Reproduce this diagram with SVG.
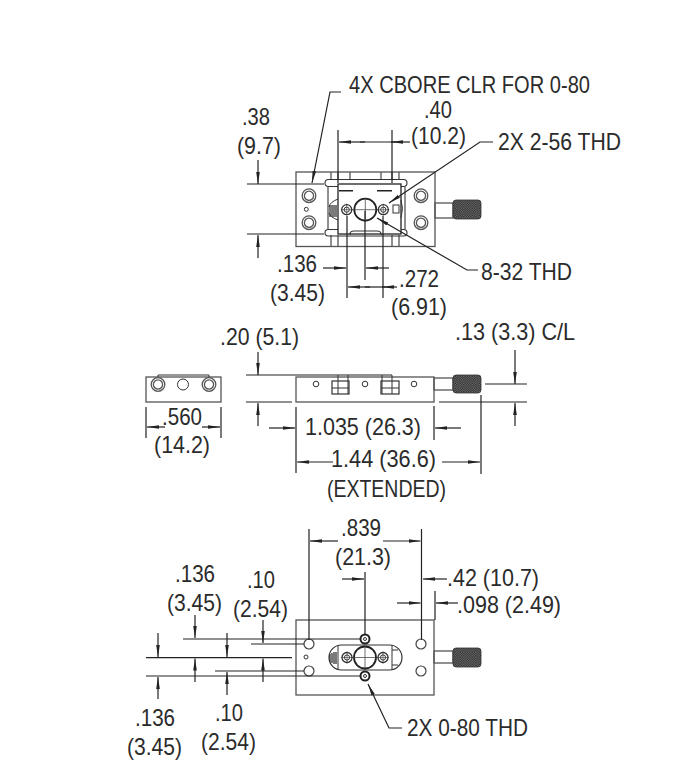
<svg xmlns="http://www.w3.org/2000/svg" width="693" height="769" viewBox="0 0 693 769">
<style>
text{font-family:"Liberation Sans",Arial,sans-serif;font-size:24px;fill:#2b2b2b}
.b{fill:none;stroke:#555;stroke-width:1.3}
.k{fill:none;stroke:#333;stroke-width:1.1}
.t{fill:none;stroke:#333;stroke-width:1}
.d{fill:none;stroke:#222;stroke-width:1.2}
.a{marker-end:url(#ar)}
.w{fill:#fff;stroke:#444;stroke-width:1.2}
.n{fill:url(#kn);stroke:#333;stroke-width:.8}
</style>
<defs>
<marker id="ar" markerUnits="userSpaceOnUse" markerWidth="12" markerHeight="6" viewBox="0 0 12 6" refX="12" refY="3" orient="auto"><path d="M0 1.200L12 3L0 4.800Z" fill="#222"/></marker>
<pattern id="kn" patternUnits="userSpaceOnUse" width="2.4" height="2.4"><rect width="2.4" height="2.4" fill="#777"/><rect width="1.2" height="1.2" fill="#222"/><rect x="1.2" y="1.2" width="1.2" height="1.2" fill="#222"/></pattern>
<g id="bore"><circle r="6.800" class="b"/><circle r="4.600" class="b"/></g>
<g id="thd"><circle r="5" fill="#fff" stroke="#333" stroke-width="1.300"/><circle r="2.600" class="t"/><path d="M-6 0H6M0-6V6" stroke="#333" stroke-width=".6"/></g>
</defs>

<g id="top-view">
<rect x="296" y="172" width="139" height="74.500" class="b"/>
<use href="#bore" x="309" y="195.700"/><use href="#bore" x="309" y="222.700"/><use href="#bore" x="421" y="195.700"/><use href="#bore" x="421" y="222.700"/>
<circle cx="306.300" cy="209.300" r="2" class="t"/>
<path class="b" d="M331 172V180M338 172V180M350 172V180M381 172V180M392 172V180M399 172V180M331 235V246.500M338 235V246.500M350 235V231M381 235V231M392 235V246.500M399 235V246.500"/>
<rect x="325" y="179.500" width="82" height="7" rx="3.500" class="k"/>
<rect x="325" y="229.500" width="82" height="6.500" rx="3.200" class="k"/>
<path class="b" d="M328 186.500V229.500M405 186.500V229.500"/>
<rect x="338" y="184" width="63" height="50" fill="#fff" stroke="#222" stroke-width="1.300"/>
<path d="M339 190.700H353M377 190.700H392" stroke="#222" stroke-width="1.600"/>
<path class="k" d="M350 234Q350 231 354 231H377Q381 231 381 234"/>
<path class="t" d="M338 199Q330 202 329 207M338 220Q330 217 329 213M401 200Q404 208 401 218"/>
<rect x="393" y="205" width="6" height="8" class="t"/>
<path d="M330 205V217M332 205V217M334 205V217M336 205V217" stroke="#333" stroke-width="1.300"/>
<circle cx="365.300" cy="209.700" r="11" fill="#fff" stroke="#222" stroke-width="1.800"/>
<path d="M352 209.700H378M365.300 198V222" stroke="#333" stroke-width=".7"/>
<use href="#thd" x="346.700" y="209.700"/><use href="#thd" x="383.300" y="209.700"/>
<rect x="435" y="203" width="18" height="15" class="b"/>
<rect x="453" y="200" width="28" height="19" rx="3" class="n"/>
</g>

<g id="side-view">
<rect x="296" y="377" width="138" height="25" class="b"/>
<circle cx="316" cy="384" r="2.800" class="t"/><circle cx="365" cy="384" r="2.800" class="t"/><circle cx="414" cy="384" r="2.800" class="t"/>
<rect x="332" y="381" width="17" height="13" fill="#fff" stroke="#333" stroke-width="1.200"/>
<rect x="381" y="381" width="18" height="13" fill="#fff" stroke="#333" stroke-width="1.200"/>
<path class="t" d="M338 375V394M348 375V394M382 375V394M392 375V394M332 388H349M381 388H399"/>
<rect x="434" y="378" width="19" height="12" class="b"/>
<rect x="453" y="375" width="28" height="18" rx="3" class="n"/>
</g>

<g id="end-view">
<rect x="146" y="377" width="75" height="25" class="b"/>
<path class="t" d="M158 378V375H209V378"/>
<use href="#bore" x="158" y="384.500"/><circle cx="183" cy="384.500" r="5.500" class="t"/><use href="#bore" x="209" y="384.500"/>
</g>

<g id="bottom-view">
<rect x="296" y="620" width="138" height="75" class="b"/>
<circle cx="309" cy="644" r="5" class="w"/><circle cx="309" cy="671" r="5" class="w"/><circle cx="421" cy="644" r="5" class="w"/><circle cx="421" cy="671" r="5" class="w"/>
<circle cx="306" cy="657" r="2" class="t"/>
<rect x="329" y="645" width="73" height="25" rx="12.500" fill="#fff" stroke="#333" stroke-width="1.200"/>
<path class="t" d="M338 645V670M392 645V670M392 650H398M392 665H398"/>
<path d="M330 654V662M332 653V663M334 652V664M336 652V664" stroke="#333" stroke-width="1.300"/>
<circle cx="365" cy="657.500" r="11" fill="none" stroke="#222" stroke-width="1.800"/>
<path d="M352 657.500H378M365 645V670" stroke="#333" stroke-width=".7"/>
<use href="#thd" x="347" y="657.500"/><use href="#thd" x="383" y="657.500"/>
<circle cx="365" cy="639" r="4.500" fill="#fff" stroke="#222" stroke-width="2"/><circle cx="365" cy="639" r="1.500" class="t"/>
<circle cx="365" cy="676" r="4.500" fill="#fff" stroke="#222" stroke-width="2"/><circle cx="365" cy="676" r="1.500" class="t"/>
<rect x="434" y="651" width="19" height="12" class="b"/>
<rect x="453" y="648" width="28" height="19" rx="3" class="n"/>
</g>

<g id="connectors">
<path class="d a" d="M341 92H330L312 183"/>
<path class="d" d="M338 130V183M392 130V183M247 184H324M247 234H324M347 216V298M365 211V280M383 216V298"/>
<path class="d a" d="M258 160V184"/><path class="d a" d="M258 258V235"/>
<path class="d a" d="M410 142H391"/><path class="d a" d="M365 142H339"/><path class="d" d="M360 142H395"/>
<path class="d a" d="M493 142H480L389 203"/>
<path class="d a" d="M478 270H467L377 218"/>
<path class="d a" d="M323 268H346"/><path class="d a" d="M389 268H366"/>
<path class="d a" d="M397 287H382"/><path class="d a" d="M370 287H348"/><path class="d" d="M365 287H385"/>
<path class="d" d="M246 375H392M246 402H292M485 384H527M439 402H527M296 407V473M434 406V440M481 395V474"/>
<path class="d a" d="M258 352V375"/><path class="d a" d="M258 426V403"/>
<path class="d a" d="M515 350V384"/><path class="d a" d="M515 426V403"/>
<path class="d a" d="M269 428H295"/><path class="d a" d="M461 428H435"/>
<path class="d a" d="M333 462H297"/><path class="d a" d="M442 462H480"/>
<path class="d" d="M146 407V438M221 407V438"/>
<path class="d a" d="M165 427H147"/><path class="d a" d="M202 427H220"/>
<path class="d" d="M309 529V640M421.500 529V640M365 572V635M435 591V620"/>
<path class="d" d="M183 639H361M251 644H304M146 657.700H292M215 671H304M146 676H361"/>
<path class="d a" d="M338 541H310"/><path class="d a" d="M383 541H420.500"/>
<path class="d a" d="M342 579H364"/><path class="d a" d="M447 579H423"/>
<path class="d a" d="M397 603H420.500"/><path class="d a" d="M458 603H436"/>
<path class="d a" d="M195 615V638"/><path class="d a" d="M195 682V658.500"/>
<path class="d a" d="M263 620V643"/><path class="d a" d="M263 682V658.500"/>
<path class="d a" d="M158 633V657"/><path class="d a" d="M158 699V677"/>
<path class="d a" d="M227 633V657"/><path class="d a" d="M227 695V672"/>
<path class="d a" d="M402 728H389L368 684"/>
</g>

<g id="labels">
<text x="349" y="93" textLength="241" lengthAdjust="spacingAndGlyphs">4X CBORE CLR FOR 0-80</text>
<text x="424" y="118" textLength="28" lengthAdjust="spacingAndGlyphs">.40</text>
<text x="411" y="144" textLength="55" lengthAdjust="spacingAndGlyphs">(10.2)</text>
<text x="498" y="150" textLength="123" lengthAdjust="spacingAndGlyphs">2X 2-56 THD</text>
<text x="242" y="125" textLength="28" lengthAdjust="spacingAndGlyphs">.38</text>
<text x="237" y="154" textLength="44" lengthAdjust="spacingAndGlyphs">(9.7)</text>
<text x="481" y="280" textLength="91" lengthAdjust="spacingAndGlyphs">8-32 THD</text>
<text x="277" y="272" textLength="40" lengthAdjust="spacingAndGlyphs">.136</text>
<text x="270" y="301" textLength="55" lengthAdjust="spacingAndGlyphs">(3.45)</text>
<text x="399" y="287" textLength="40" lengthAdjust="spacingAndGlyphs">.272</text>
<text x="391" y="315" textLength="56" lengthAdjust="spacingAndGlyphs">(6.91)</text>
<text x="220" y="345" textLength="79" lengthAdjust="spacingAndGlyphs">.20 (5.1)</text>
<text x="455" y="340" textLength="120" lengthAdjust="spacingAndGlyphs">.13 (3.3) C/L</text>
<text x="162" y="425" textLength="40" lengthAdjust="spacingAndGlyphs">.560</text>
<text x="154" y="453" textLength="56" lengthAdjust="spacingAndGlyphs">(14.2)</text>
<text x="305" y="435" textLength="116" lengthAdjust="spacingAndGlyphs">1.035 (26.3)</text>
<text x="331" y="467" textLength="105" lengthAdjust="spacingAndGlyphs">1.44 (36.6)</text>
<text x="327" y="497" textLength="119" lengthAdjust="spacingAndGlyphs">(EXTENDED)</text>
<text x="341" y="536" textLength="40" lengthAdjust="spacingAndGlyphs">.839</text>
<text x="335" y="565" textLength="56" lengthAdjust="spacingAndGlyphs">(21.3)</text>
<text x="447" y="586" textLength="92" lengthAdjust="spacingAndGlyphs">.42 (10.7)</text>
<text x="457" y="613" textLength="104" lengthAdjust="spacingAndGlyphs">.098 (2.49)</text>
<text x="175" y="582" textLength="40" lengthAdjust="spacingAndGlyphs">.136</text>
<text x="167" y="611" textLength="55" lengthAdjust="spacingAndGlyphs">(3.45)</text>
<text x="247" y="588" textLength="28" lengthAdjust="spacingAndGlyphs">.10</text>
<text x="233" y="617" textLength="55" lengthAdjust="spacingAndGlyphs">(2.54)</text>
<text x="135" y="726" textLength="40" lengthAdjust="spacingAndGlyphs">.136</text>
<text x="127" y="755" textLength="55" lengthAdjust="spacingAndGlyphs">(3.45)</text>
<text x="215" y="721" textLength="28" lengthAdjust="spacingAndGlyphs">.10</text>
<text x="201" y="750" textLength="55" lengthAdjust="spacingAndGlyphs">(2.54)</text>
<text x="407" y="736" textLength="121" lengthAdjust="spacingAndGlyphs">2X 0-80 THD</text>
</g>
</svg>
